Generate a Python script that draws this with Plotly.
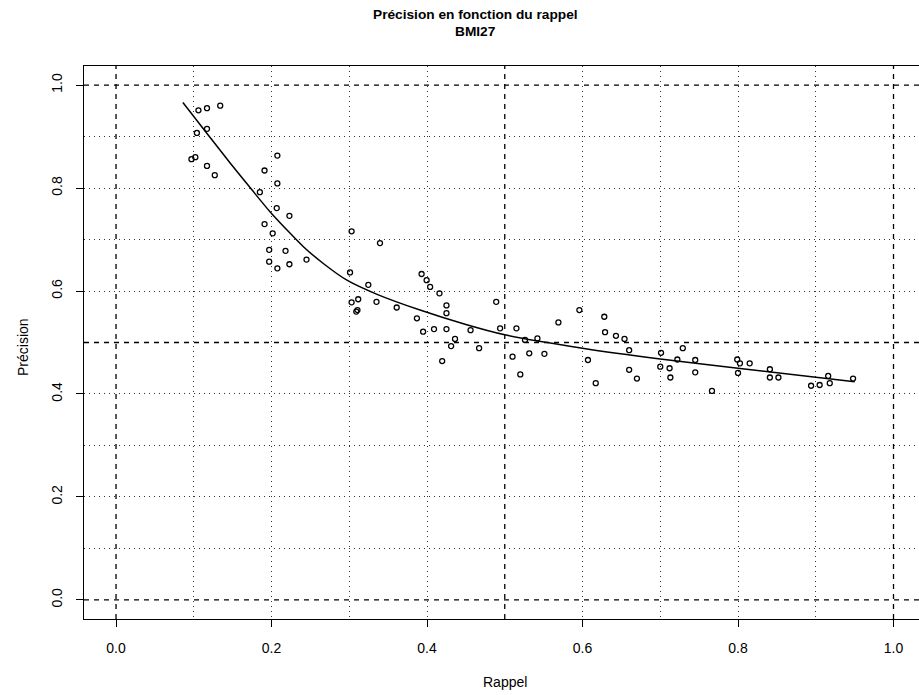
import plotly.graph_objects as go

# ---- data ----
rappel = [0.106, 0.117, 0.134, 0.104, 0.117, 0.097, 0.102, 0.117, 0.127,
          0.2075, 0.191, 0.2075, 0.185, 0.2067, 0.223, 0.191, 0.2015, 0.197, 0.218,
          0.197, 0.2075, 0.223, 0.245, 0.303, 0.3395, 0.301, 0.3245,
          0.303, 0.3115, 0.3105, 0.309, 0.335, 0.361, 0.393, 0.3995, 0.404, 0.416,
          0.387, 0.395, 0.409, 0.425, 0.425, 0.425, 0.436, 0.431, 0.4195, 0.467,
          0.456, 0.489, 0.494, 0.515, 0.510, 0.520, 0.5315, 0.542, 0.526, 0.551,
          0.569, 0.596, 0.607, 0.617,
          0.628, 0.629, 0.643, 0.654, 0.660, 0.660, 0.670, 0.701, 0.700, 0.712,
          0.713, 0.722, 0.729, 0.745, 0.745, 0.7665, 0.799, 0.8025, 0.800, 0.815,
          0.841, 0.841, 0.852, 0.894, 0.905, 0.916, 0.918, 0.948]
precision = [0.951, 0.955, 0.960, 0.907, 0.915, 0.856, 0.860, 0.843, 0.825,
             0.863, 0.834, 0.809, 0.792, 0.761, 0.746, 0.730, 0.712, 0.680, 0.678,
             0.657, 0.644, 0.652, 0.661, 0.716, 0.693, 0.636, 0.612,
             0.578, 0.584, 0.563, 0.560, 0.579, 0.568, 0.633, 0.621, 0.608, 0.5955,
             0.547, 0.521, 0.526, 0.572, 0.557, 0.526, 0.507, 0.493, 0.464, 0.489,
             0.524, 0.579, 0.5275, 0.5275, 0.4725, 0.438, 0.479, 0.508, 0.505, 0.478,
             0.539, 0.563, 0.466, 0.421,
             0.550, 0.520, 0.513, 0.507, 0.485, 0.447, 0.430, 0.480, 0.453, 0.450,
             0.432, 0.467, 0.489, 0.466, 0.442, 0.406, 0.467, 0.4595, 0.441, 0.4595,
             0.448, 0.432, 0.432, 0.416, 0.4175, 0.435, 0.421, 0.430]

curve_x = [0.086, 0.117, 0.147, 0.175, 0.198, 0.224, 0.241, 0.267, 0.297, 0.335,
           0.391, 0.45, 0.5, 0.6, 0.7, 0.8, 0.95]
curve_y = [0.966, 0.906, 0.848, 0.796, 0.754, 0.712, 0.686, 0.653, 0.621, 0.594,
           0.563, 0.535, 0.515, 0.489, 0.468, 0.45, 0.424]

tick_vals = [0.0, 0.2, 0.4, 0.6, 0.8, 1.0]
tick_text = ["0.0", "0.2", "0.4", "0.6", "0.8", "1.0"]
minor_grid = [0.1, 0.2, 0.3, 0.4, 0.6, 0.7, 0.8, 0.9]
ref_lines = [0.0, 0.5, 1.0]

FONT = "Liberation Sans, Arial, sans-serif"

fig = go.Figure()
fig.add_trace(go.Scatter(
    x=rappel, y=precision, mode="markers",
    marker=dict(symbol="circle-open", size=5, color="black", line=dict(width=1.3)),
    showlegend=False, hoverinfo="skip"))
fig.add_trace(go.Scatter(
    x=curve_x, y=curve_y, mode="lines",
    line=dict(color="black", width=1.5, shape="spline", smoothing=0.6),
    showlegend=False, hoverinfo="skip"))

shapes = []
for v in ref_lines:
    shapes.append(dict(type="line", xref="x", yref="paper", x0=v, x1=v, y0=0, y1=1,
                       line=dict(color="black", width=1.3, dash="5px,5px"), layer="below"))
    shapes.append(dict(type="line", xref="paper", yref="y", x0=0, x1=1, y0=v, y1=v,
                       line=dict(color="black", width=1.3, dash="5px,5px"), layer="below"))

axis_common = dict(
    showline=True, linecolor="black", linewidth=1,
    ticks="outside", ticklen=7, tickwidth=1, tickcolor="black",
    tickvals=tick_vals, ticktext=tick_text,
    tickfont=dict(family=FONT, size=14, color="black"),
    showgrid=False, zeroline=False,
    minor=dict(tickvals=minor_grid, showgrid=True, gridcolor="#333333",
               griddash="1px,4px", gridwidth=1, ticks=""),
)

px_y = lambda p: (619 - p) / 553
px_x = lambda p: (p - 84) / 835

fig.update_layout(
    width=919, height=695,
    margin=dict(l=84, r=0, t=66, b=76),
    paper_bgcolor="white", plot_bgcolor="white",
    font=dict(family=FONT, color="black"),
    xaxis=dict(range=[-0.0412, 1.0328], mirror=True, ticklabelstandoff=9, **axis_common),
    yaxis=dict(range=[-0.037, 1.037], tickangle=-90, ticklabelstandoff=8, **axis_common),
    shapes=shapes,
    annotations=[
        dict(text="<b>Précision en fonction du rappel</b>", xref="paper", yref="paper",
             x=px_x(475), y=px_y(14), xanchor="center", yanchor="middle", showarrow=False,
             font=dict(family=FONT, size=13.7, color="black")),
        dict(text="<b>BMI27</b>", xref="paper", yref="paper",
             x=px_x(475), y=px_y(32), xanchor="center", yanchor="middle", showarrow=False,
             font=dict(family=FONT, size=13.7, color="black")),
        dict(text="Rappel", xref="paper", yref="paper", x=px_x(505),
             y=px_y(682), xanchor="center", yanchor="middle", showarrow=False,
             font=dict(family=FONT, size=14, color="black")),
        dict(text="Précision", xref="paper", yref="paper", x=px_x(23),
             y=px_y(347), xanchor="center", yanchor="middle", showarrow=False,
             textangle=-90, font=dict(family=FONT, size=14, color="black")),
    ],
)

fig.write_html("out.html", config={"displayModeBar": False},
               post_script="document.body.style.margin='0';document.body.style.overflow='hidden';")
